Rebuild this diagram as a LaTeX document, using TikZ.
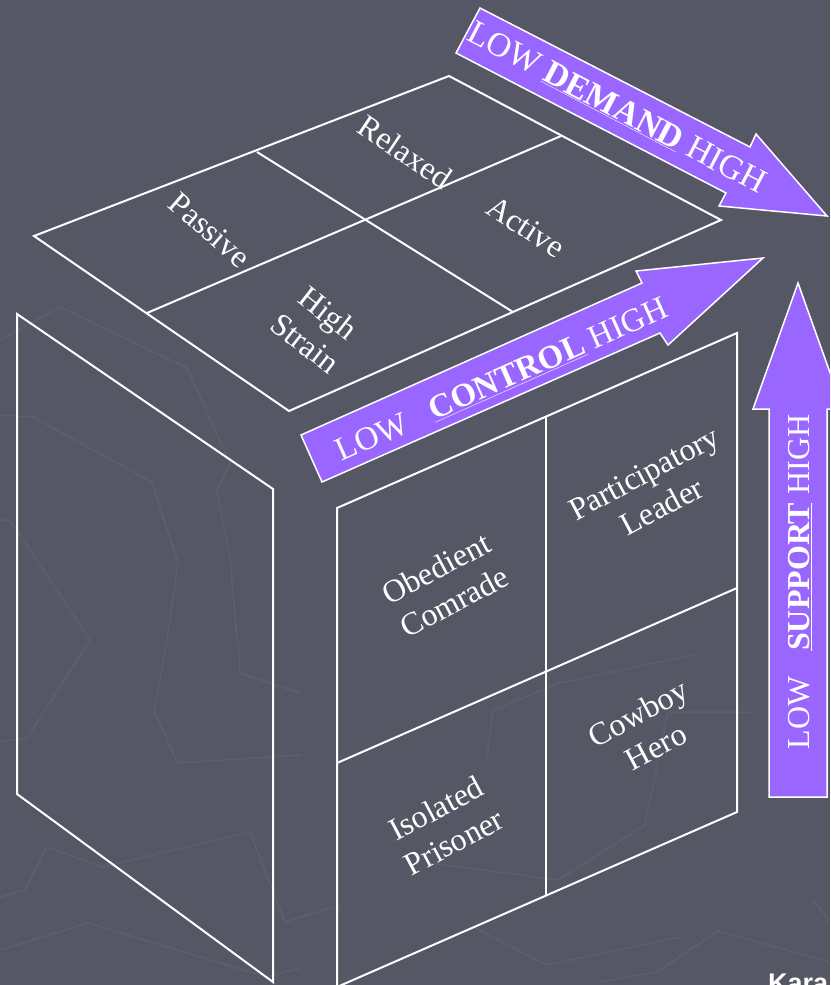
\documentclass[tikz,border=0pt]{standalone}
\usepackage{fontspec}
\setmainfont{Liberation Serif}
\newfontfamily\arialfont{Liberation Sans}
\definecolor{bg}{RGB}{85,87,101}
\definecolor{bgline}{RGB}{93,95,110}
\definecolor{purp}{RGB}{153,102,255}
\begin{document}
\begin{tikzpicture}[x=1pt,y=-1pt,
  edge/.style={draw=white, line width=2pt, line join=miter},
  arrowshape/.style={fill=purp, draw=white, line width=1.5pt, line join=miter},
  celltext/.style={text=white, font=\fontsize{32}{38}\selectfont, align=center, inner sep=0pt},
  arrtext/.style={text=white, font=\fontsize{33}{39}\selectfont, inner sep=0pt},
  faint/.style={draw=bgline, line width=1.5pt}]
\fill[bg] (0,0) rectangle (830,985);
\useasboundingbox (0,0) rectangle (830,985);
\clip (0,0) rectangle (830,985);

% faint background pattern
\draw[faint] (0,340) -- (60,307) -- (187,368) -- (230,463) -- (217,490) -- (230,557) -- (237,640);
\draw[faint] (0,415) -- (33,417) -- (152,482) -- (178,563) -- (167,640) -- (154,712) -- (178,763) -- (300,755);
\draw[faint] (0,520) -- (10,520) -- (90,640) -- (27,738) -- (0,742);
\draw[faint] (238,640) -- (240,673) -- (300,693);
\draw[faint] (0,897) -- (25,890) -- (47,847) -- (102,867) -- (250,832) -- (285,922) -- (340,905);
\draw[faint] (0,950) -- (88,923) -- (267,977) -- (300,968);
\draw[faint] (430,863) -- (558,880) -- (645,825) -- (668,712) -- (750,712);
\draw[faint] (487,757) -- (493,710) -- (560,683) -- (693,655);
\draw[faint] (473,927) -- (547,965) -- (680,937);
\draw[faint] (600,982) -- (657,972) -- (718,931) -- (830,962);
\draw[faint] (813,900) -- (830,922);

% top face
\coordinate (tL) at (34,236);
\coordinate (tT) at (449,76);
\coordinate (tR) at (721,220);
\coordinate (tB) at (289,411);
\coordinate (tA1) at (257,152);
\coordinate (tA2) at (513,312);
\coordinate (tB1) at (147,313);
\coordinate (tB2) at (561,136);
\draw[edge] (tL) -- (tT) -- (tR) -- (tB) -- cycle;
\draw[edge] (tA1) -- (tA2);
\draw[edge] (tB1) -- (tB2);

% left face
\coordinate (lTL) at (17,314);
\coordinate (lTR) at (273,489);
\coordinate (lBR) at (273,982);
\coordinate (lBL) at (17,794);
\draw[edge] (lTL) -- (lTR) -- (lBR) -- (lBL) -- cycle;

% front face
\coordinate (fTL) at (337,508);
\coordinate (fTR) at (737,333);
\coordinate (fBR) at (737,812);
\coordinate (fBL) at (337,987);
\coordinate (fMT) at (546,417);
\coordinate (fMB) at (546,895);
\coordinate (fML) at (337,763);
\coordinate (fMR) at (737,588);
\draw[edge] (fTL) -- (fTR) -- (fBR) -- (fBL) -- cycle;
\draw[edge] (fMT) -- (fMB);
\draw[edge] (fML) -- (fMR);

% DEMAND arrow
\draw[arrowshape] (480,8) -- (750,147) -- (756,134) -- (827,216) -- (719,206) -- (726,193) -- (456,53) -- cycle;
% CONTROL arrow
\draw[arrowshape] (301,435) -- (642,283) -- (636,271) -- (763,258) -- (668,345) -- (660,333) -- (322,482) -- cycle;
% SUPPORT arrow
\draw[arrowshape] (769,797) -- (769,409) -- (753,409) -- (798,283) -- (843,409) -- (827,409) -- (827,797) -- cycle;

% arrow labels
\node[arrtext, rotate=-27.7, font=\fontsize{34}{40}\selectfont] (demand) at (617,108) {LOW \underline{\textbf{DEMAND}} HIGH};
\node[arrtext, rotate=24] (control) at (502,380) {LOW\hspace{0.8em}\underline{\textbf{CONTROL}} HIGH};
\node[arrtext, rotate=90, font=\fontsize{32}{38}\selectfont] (support) at (800,582) {LOW\hspace{0.8em}\underline{\textbf{SUPPORT}} HIGH};

% top face labels
\node[celltext, rotate=-34] (relaxed) at (405,152) {Relaxed};
\node[celltext, rotate=-41] (passive) at (210,230) {Passive};
\node[celltext, rotate=-33] (active) at (526,227) {Active};
\node[celltext, rotate=-38] (strain) at (317,328) {High\\Strain};

% front face labels
\node[celltext, rotate=28] (obedient) at (445,585) {Obedient\\Comrade};
\node[celltext, rotate=28] (particip) at (653,490) {Participatory\\Leader};
\node[celltext, rotate=28] (isolated) at (445,825) {Isolated\\Prisoner};
\node[celltext, rotate=28] (cowboy) at (647,730) {Cowboy\\Hero};

% cut-off credit
\node[anchor=base west, text=white, font=\arialfont\bfseries\fontsize{27}{32}\selectfont, inner sep=0pt] (kara) at (768,992) {Kara};
\end{tikzpicture}
\end{document}
